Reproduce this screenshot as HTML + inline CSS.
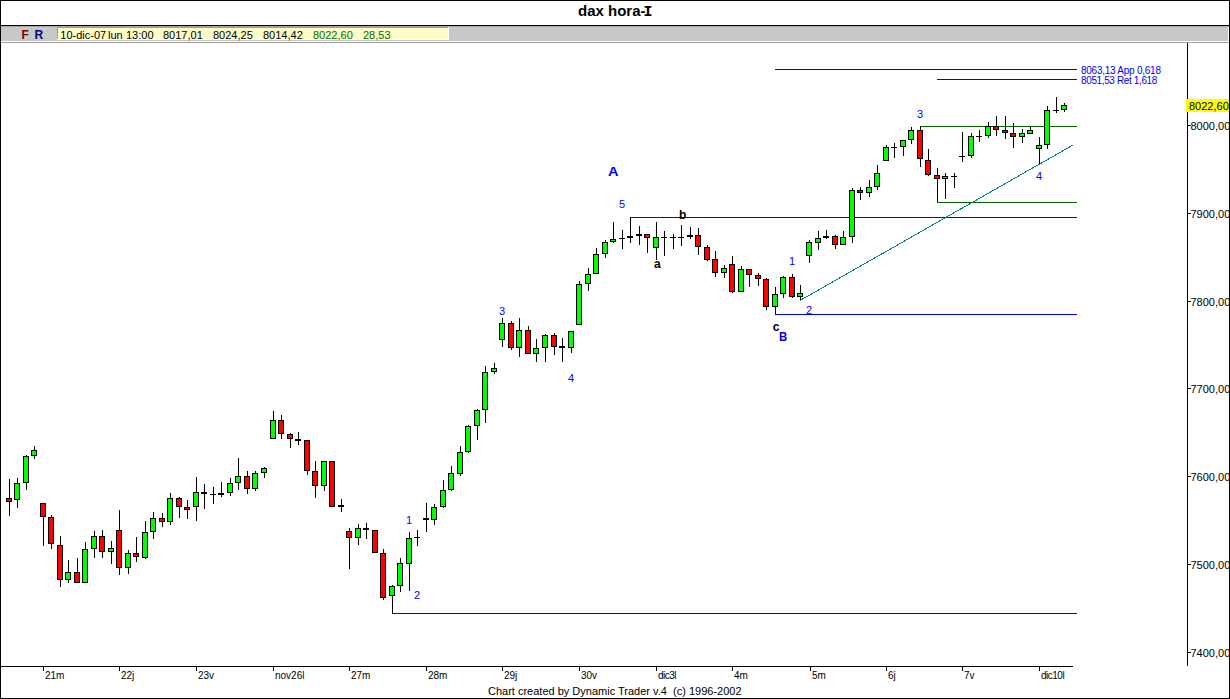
<!DOCTYPE html>
<html><head><meta charset="utf-8"><title>dax hora-I</title>
<style>
html,body{margin:0;padding:0;background:#fff;}
body{width:1230px;height:699px;position:relative;overflow:hidden;font-family:"Liberation Sans",sans-serif;font-size:11px;color:#000;}
.a{position:absolute;white-space:nowrap;line-height:1;}
svg{position:absolute;left:0;top:0;}
.b{font-weight:bold;}
.bl{color:#0000ff;}
</style></head><body>

<div class="a" style="left:0;top:0;width:1230px;height:1px;background:#000"></div>
<div class="a" style="left:0;top:0;width:1px;height:699px;background:#000"></div>
<div class="a" style="left:1229px;top:0;width:1px;height:699px;background:#000"></div>
<div class="a" style="left:0;top:698px;width:1230px;height:1px;background:#000"></div>
<div class="a" style="left:1px;top:25px;width:1228px;height:1px;background:#000"></div>
<div class="a" style="left:1px;top:26px;width:1227px;height:15px;background:#c8c8c8"></div>
<div class="a" style="left:1px;top:42px;width:1228px;height:1px;background:#a0a0a0"></div>
<div class="a" style="left:1px;top:26px;width:1228px;height:1px;background:#a6a6a6"></div>
<div class="a" style="left:57px;top:27px;width:392px;height:13px;background:#fff"></div>
<div class="a" style="left:57px;top:27px;width:391px;height:12px;background:#9c9c9c"></div>
<div class="a" style="left:58px;top:28px;width:390px;height:11px;background:#fefcc9"></div>
<svg width="1230" height="699" viewBox="0 0 1230 699" shape-rendering="crispEdges"><rect x="775" y="69" width="302" height="1" fill="#0000ff"/>
<rect x="937" y="79" width="140" height="1" fill="#0000ff"/>
<rect x="630" y="217" width="447" height="1" fill="#0000ff"/>
<rect x="775" y="314" width="302" height="1" fill="#0000ff"/>
<rect x="392" y="613" width="685" height="1" fill="#0000ff"/>
<rect x="920" y="126" width="157" height="1" fill="#006400"/>
<rect x="937" y="202" width="140" height="1" fill="#006400"/>
<line x1="800" y1="300.5" x2="1073" y2="145" stroke="#008080" stroke-width="1" shape-rendering="crispEdges"/>
<rect x="9" y="479" width="1" height="37" fill="#000"/>
<rect x="6" y="498" width="6" height="4" fill="#000"/>
<rect x="7" y="499" width="4" height="2" fill="#ff0000"/>
<rect x="17" y="478" width="1" height="30" fill="#000"/>
<rect x="14" y="483" width="6" height="17" fill="#000"/>
<rect x="15" y="484" width="4" height="15" fill="#00ff00"/>
<rect x="26" y="455" width="1" height="35" fill="#000"/>
<rect x="23" y="456" width="6" height="27" fill="#000"/>
<rect x="24" y="457" width="4" height="25" fill="#00ff00"/>
<rect x="34" y="446" width="1" height="13" fill="#000"/>
<rect x="31" y="450" width="6" height="6" fill="#000"/>
<rect x="32" y="451" width="4" height="4" fill="#00ff00"/>
<rect x="43" y="503" width="1" height="43" fill="#000"/>
<rect x="40" y="503" width="6" height="14" fill="#000"/>
<rect x="41" y="504" width="4" height="12" fill="#ff0000"/>
<rect x="51" y="515" width="1" height="34" fill="#000"/>
<rect x="48" y="517" width="6" height="27" fill="#000"/>
<rect x="49" y="518" width="4" height="25" fill="#ff0000"/>
<rect x="60" y="536" width="1" height="51" fill="#000"/>
<rect x="57" y="545" width="6" height="35" fill="#000"/>
<rect x="58" y="546" width="4" height="33" fill="#ff0000"/>
<rect x="68" y="560" width="1" height="23" fill="#000"/>
<rect x="65" y="572" width="6" height="8" fill="#000"/>
<rect x="66" y="573" width="4" height="6" fill="#00ff00"/>
<rect x="77" y="558" width="1" height="25" fill="#000"/>
<rect x="74" y="572" width="6" height="11" fill="#000"/>
<rect x="75" y="573" width="4" height="9" fill="#ff0000"/>
<rect x="85" y="542" width="1" height="41" fill="#000"/>
<rect x="82" y="549" width="6" height="34" fill="#000"/>
<rect x="83" y="550" width="4" height="32" fill="#00ff00"/>
<rect x="94" y="531" width="1" height="27" fill="#000"/>
<rect x="91" y="536" width="6" height="13" fill="#000"/>
<rect x="92" y="537" width="4" height="11" fill="#00ff00"/>
<rect x="102" y="530" width="1" height="28" fill="#000"/>
<rect x="99" y="536" width="6" height="16" fill="#000"/>
<rect x="100" y="537" width="4" height="14" fill="#ff0000"/>
<rect x="111" y="541" width="1" height="23" fill="#000"/>
<rect x="108" y="548" width="6" height="4" fill="#000"/>
<rect x="109" y="549" width="4" height="2" fill="#00ff00"/>
<rect x="119" y="510" width="1" height="65" fill="#000"/>
<rect x="116" y="530" width="6" height="38" fill="#000"/>
<rect x="117" y="531" width="4" height="36" fill="#ff0000"/>
<rect x="128" y="550" width="1" height="24" fill="#000"/>
<rect x="125" y="553" width="6" height="15" fill="#000"/>
<rect x="126" y="554" width="4" height="13" fill="#00ff00"/>
<rect x="136" y="537" width="1" height="25" fill="#000"/>
<rect x="133" y="553" width="6" height="4" fill="#000"/>
<rect x="134" y="554" width="4" height="2" fill="#ff0000"/>
<rect x="145" y="521" width="1" height="38" fill="#000"/>
<rect x="142" y="532" width="6" height="26" fill="#000"/>
<rect x="143" y="533" width="4" height="24" fill="#00ff00"/>
<rect x="153" y="512" width="1" height="27" fill="#000"/>
<rect x="150" y="518" width="6" height="14" fill="#000"/>
<rect x="151" y="519" width="4" height="12" fill="#00ff00"/>
<rect x="162" y="513" width="1" height="14" fill="#000"/>
<rect x="159" y="518" width="6" height="4" fill="#000"/>
<rect x="160" y="519" width="4" height="2" fill="#ff0000"/>
<rect x="170" y="493" width="1" height="32" fill="#000"/>
<rect x="167" y="498" width="6" height="24" fill="#000"/>
<rect x="168" y="499" width="4" height="22" fill="#00ff00"/>
<rect x="179" y="497" width="1" height="21" fill="#000"/>
<rect x="176" y="498" width="6" height="9" fill="#000"/>
<rect x="177" y="499" width="4" height="7" fill="#ff0000"/>
<rect x="187" y="500" width="1" height="19" fill="#000"/>
<rect x="184" y="507" width="6" height="3" fill="#000"/>
<rect x="185" y="508" width="4" height="1" fill="#ff0000"/>
<rect x="196" y="477" width="1" height="44" fill="#000"/>
<rect x="193" y="492" width="6" height="15" fill="#000"/>
<rect x="194" y="493" width="4" height="13" fill="#00ff00"/>
<rect x="204" y="484" width="1" height="25" fill="#000"/>
<rect x="201" y="492" width="6" height="2" fill="#000"/>
<rect x="213" y="487" width="1" height="17" fill="#000"/>
<rect x="210" y="494" width="6" height="1" fill="#000"/>
<rect x="221" y="482" width="1" height="15" fill="#000"/>
<rect x="218" y="493" width="6" height="2" fill="#000"/>
<rect x="230" y="478" width="1" height="18" fill="#000"/>
<rect x="227" y="483" width="6" height="10" fill="#000"/>
<rect x="228" y="484" width="4" height="8" fill="#00ff00"/>
<rect x="238" y="458" width="1" height="32" fill="#000"/>
<rect x="235" y="476" width="6" height="7" fill="#000"/>
<rect x="236" y="477" width="4" height="5" fill="#00ff00"/>
<rect x="247" y="471" width="1" height="23" fill="#000"/>
<rect x="244" y="476" width="6" height="13" fill="#000"/>
<rect x="245" y="477" width="4" height="11" fill="#ff0000"/>
<rect x="255" y="471" width="1" height="20" fill="#000"/>
<rect x="252" y="473" width="6" height="16" fill="#000"/>
<rect x="253" y="474" width="4" height="14" fill="#00ff00"/>
<rect x="264" y="467" width="1" height="11" fill="#000"/>
<rect x="261" y="468" width="6" height="5" fill="#000"/>
<rect x="262" y="469" width="4" height="3" fill="#00ff00"/>
<rect x="273" y="411" width="1" height="28" fill="#000"/>
<rect x="270" y="420" width="6" height="19" fill="#000"/>
<rect x="271" y="421" width="4" height="17" fill="#00ff00"/>
<rect x="281" y="415" width="1" height="24" fill="#000"/>
<rect x="278" y="420" width="6" height="14" fill="#000"/>
<rect x="279" y="421" width="4" height="12" fill="#ff0000"/>
<rect x="290" y="433" width="1" height="15" fill="#000"/>
<rect x="287" y="434" width="6" height="5" fill="#000"/>
<rect x="288" y="435" width="4" height="3" fill="#ff0000"/>
<rect x="298" y="432" width="1" height="13" fill="#000"/>
<rect x="295" y="439" width="6" height="2" fill="#000"/>
<rect x="307" y="440" width="1" height="35" fill="#000"/>
<rect x="304" y="440" width="6" height="31" fill="#000"/>
<rect x="305" y="441" width="4" height="29" fill="#ff0000"/>
<rect x="315" y="461" width="1" height="37" fill="#000"/>
<rect x="312" y="471" width="6" height="15" fill="#000"/>
<rect x="313" y="472" width="4" height="13" fill="#ff0000"/>
<rect x="324" y="461" width="1" height="30" fill="#000"/>
<rect x="321" y="461" width="6" height="25" fill="#000"/>
<rect x="322" y="462" width="4" height="23" fill="#00ff00"/>
<rect x="332" y="461" width="1" height="46" fill="#000"/>
<rect x="329" y="461" width="6" height="46" fill="#000"/>
<rect x="330" y="462" width="4" height="44" fill="#ff0000"/>
<rect x="341" y="499" width="1" height="13" fill="#000"/>
<rect x="338" y="505" width="6" height="2" fill="#000"/>
<rect x="349" y="528" width="1" height="41" fill="#000"/>
<rect x="346" y="531" width="6" height="7" fill="#000"/>
<rect x="347" y="532" width="4" height="5" fill="#ff0000"/>
<rect x="358" y="524" width="1" height="21" fill="#000"/>
<rect x="355" y="528" width="6" height="10" fill="#000"/>
<rect x="356" y="529" width="4" height="8" fill="#00ff00"/>
<rect x="366" y="523" width="1" height="16" fill="#000"/>
<rect x="363" y="528" width="6" height="2" fill="#000"/>
<rect x="375" y="530" width="1" height="23" fill="#000"/>
<rect x="372" y="530" width="6" height="23" fill="#000"/>
<rect x="373" y="531" width="4" height="21" fill="#ff0000"/>
<rect x="383" y="549" width="1" height="51" fill="#000"/>
<rect x="380" y="553" width="6" height="45" fill="#000"/>
<rect x="381" y="554" width="4" height="43" fill="#ff0000"/>
<rect x="392" y="585" width="1" height="28" fill="#000"/>
<rect x="389" y="586" width="6" height="10" fill="#000"/>
<rect x="390" y="587" width="4" height="8" fill="#00ff00"/>
<rect x="400" y="558" width="1" height="34" fill="#000"/>
<rect x="397" y="563" width="6" height="23" fill="#000"/>
<rect x="398" y="564" width="4" height="21" fill="#00ff00"/>
<rect x="409" y="532" width="1" height="59" fill="#000"/>
<rect x="406" y="538" width="6" height="26" fill="#000"/>
<rect x="407" y="539" width="4" height="24" fill="#00ff00"/>
<rect x="417" y="530" width="1" height="16" fill="#000"/>
<rect x="414" y="537" width="6" height="1" fill="#000"/>
<rect x="426" y="503" width="1" height="29" fill="#000"/>
<rect x="423" y="518" width="6" height="2" fill="#000"/>
<rect x="434" y="504" width="1" height="21" fill="#000"/>
<rect x="431" y="507" width="6" height="13" fill="#000"/>
<rect x="432" y="508" width="4" height="11" fill="#00ff00"/>
<rect x="443" y="480" width="1" height="28" fill="#000"/>
<rect x="440" y="490" width="6" height="17" fill="#000"/>
<rect x="441" y="491" width="4" height="15" fill="#00ff00"/>
<rect x="451" y="466" width="1" height="25" fill="#000"/>
<rect x="448" y="473" width="6" height="17" fill="#000"/>
<rect x="449" y="474" width="4" height="15" fill="#00ff00"/>
<rect x="460" y="446" width="1" height="30" fill="#000"/>
<rect x="457" y="452" width="6" height="22" fill="#000"/>
<rect x="458" y="453" width="4" height="20" fill="#00ff00"/>
<rect x="468" y="425" width="1" height="28" fill="#000"/>
<rect x="465" y="426" width="6" height="26" fill="#000"/>
<rect x="466" y="427" width="4" height="24" fill="#00ff00"/>
<rect x="477" y="409" width="1" height="31" fill="#000"/>
<rect x="474" y="410" width="6" height="16" fill="#000"/>
<rect x="475" y="411" width="4" height="14" fill="#00ff00"/>
<rect x="485" y="366" width="1" height="57" fill="#000"/>
<rect x="482" y="372" width="6" height="38" fill="#000"/>
<rect x="483" y="373" width="4" height="36" fill="#00ff00"/>
<rect x="494" y="363" width="1" height="11" fill="#000"/>
<rect x="491" y="368" width="6" height="4" fill="#000"/>
<rect x="492" y="369" width="4" height="2" fill="#00ff00"/>
<rect x="502" y="318" width="1" height="29" fill="#000"/>
<rect x="499" y="323" width="6" height="17" fill="#000"/>
<rect x="500" y="324" width="4" height="15" fill="#00ff00"/>
<rect x="511" y="321" width="1" height="29" fill="#000"/>
<rect x="508" y="323" width="6" height="25" fill="#000"/>
<rect x="509" y="324" width="4" height="23" fill="#ff0000"/>
<rect x="519" y="318" width="1" height="39" fill="#000"/>
<rect x="516" y="330" width="6" height="18" fill="#000"/>
<rect x="517" y="331" width="4" height="16" fill="#00ff00"/>
<rect x="528" y="326" width="1" height="28" fill="#000"/>
<rect x="525" y="330" width="6" height="24" fill="#000"/>
<rect x="526" y="331" width="4" height="22" fill="#ff0000"/>
<rect x="536" y="339" width="1" height="23" fill="#000"/>
<rect x="533" y="348" width="6" height="6" fill="#000"/>
<rect x="534" y="349" width="4" height="4" fill="#00ff00"/>
<rect x="545" y="334" width="1" height="28" fill="#000"/>
<rect x="542" y="335" width="6" height="13" fill="#000"/>
<rect x="543" y="336" width="4" height="11" fill="#00ff00"/>
<rect x="554" y="333" width="1" height="22" fill="#000"/>
<rect x="551" y="335" width="6" height="12" fill="#000"/>
<rect x="552" y="336" width="4" height="10" fill="#ff0000"/>
<rect x="562" y="338" width="1" height="24" fill="#000"/>
<rect x="559" y="346" width="6" height="2" fill="#000"/>
<rect x="571" y="331" width="1" height="22" fill="#000"/>
<rect x="568" y="331" width="6" height="17" fill="#000"/>
<rect x="569" y="332" width="4" height="15" fill="#00ff00"/>
<rect x="579" y="281" width="1" height="44" fill="#000"/>
<rect x="576" y="284" width="6" height="41" fill="#000"/>
<rect x="577" y="285" width="4" height="39" fill="#00ff00"/>
<rect x="588" y="268" width="1" height="23" fill="#000"/>
<rect x="585" y="274" width="6" height="10" fill="#000"/>
<rect x="586" y="275" width="4" height="8" fill="#00ff00"/>
<rect x="596" y="248" width="1" height="26" fill="#000"/>
<rect x="593" y="254" width="6" height="20" fill="#000"/>
<rect x="594" y="255" width="4" height="18" fill="#00ff00"/>
<rect x="605" y="240" width="1" height="18" fill="#000"/>
<rect x="602" y="242" width="6" height="12" fill="#000"/>
<rect x="603" y="243" width="4" height="10" fill="#00ff00"/>
<rect x="613" y="222" width="1" height="21" fill="#000"/>
<rect x="610" y="239" width="6" height="3" fill="#000"/>
<rect x="611" y="240" width="4" height="1" fill="#00ff00"/>
<rect x="622" y="230" width="1" height="19" fill="#000"/>
<rect x="619" y="238" width="6" height="1" fill="#000"/>
<rect x="630" y="217" width="1" height="26" fill="#000"/>
<rect x="627" y="236" width="6" height="2" fill="#000"/>
<rect x="639" y="226" width="1" height="19" fill="#000"/>
<rect x="636" y="234" width="6" height="2" fill="#000"/>
<rect x="647" y="234" width="1" height="19" fill="#000"/>
<rect x="644" y="234" width="6" height="4" fill="#000"/>
<rect x="645" y="235" width="4" height="2" fill="#ff0000"/>
<rect x="656" y="222" width="1" height="38" fill="#000"/>
<rect x="653" y="237" width="6" height="11" fill="#000"/>
<rect x="654" y="238" width="4" height="9" fill="#00ff00"/>
<rect x="664" y="231" width="1" height="25" fill="#000"/>
<rect x="661" y="237" width="6" height="1" fill="#000"/>
<rect x="673" y="234" width="1" height="15" fill="#000"/>
<rect x="670" y="237" width="6" height="1" fill="#000"/>
<rect x="681" y="225" width="1" height="21" fill="#000"/>
<rect x="678" y="237" width="6" height="1" fill="#000"/>
<rect x="690" y="227" width="1" height="12" fill="#000"/>
<rect x="687" y="235" width="6" height="2" fill="#000"/>
<rect x="698" y="228" width="1" height="27" fill="#000"/>
<rect x="695" y="235" width="6" height="12" fill="#000"/>
<rect x="696" y="236" width="4" height="10" fill="#ff0000"/>
<rect x="707" y="245" width="1" height="16" fill="#000"/>
<rect x="704" y="247" width="6" height="13" fill="#000"/>
<rect x="705" y="248" width="4" height="11" fill="#ff0000"/>
<rect x="715" y="251" width="1" height="26" fill="#000"/>
<rect x="712" y="259" width="6" height="14" fill="#000"/>
<rect x="713" y="260" width="4" height="12" fill="#ff0000"/>
<rect x="724" y="265" width="1" height="13" fill="#000"/>
<rect x="721" y="268" width="6" height="5" fill="#000"/>
<rect x="722" y="269" width="4" height="3" fill="#00ff00"/>
<rect x="732" y="256" width="1" height="37" fill="#000"/>
<rect x="729" y="264" width="6" height="28" fill="#000"/>
<rect x="730" y="265" width="4" height="26" fill="#ff0000"/>
<rect x="741" y="266" width="1" height="26" fill="#000"/>
<rect x="738" y="269" width="6" height="23" fill="#000"/>
<rect x="739" y="270" width="4" height="21" fill="#00ff00"/>
<rect x="749" y="269" width="1" height="18" fill="#000"/>
<rect x="746" y="269" width="6" height="6" fill="#000"/>
<rect x="747" y="270" width="4" height="4" fill="#ff0000"/>
<rect x="758" y="273" width="1" height="13" fill="#000"/>
<rect x="755" y="275" width="6" height="4" fill="#000"/>
<rect x="756" y="276" width="4" height="2" fill="#ff0000"/>
<rect x="766" y="278" width="1" height="32" fill="#000"/>
<rect x="763" y="279" width="6" height="28" fill="#000"/>
<rect x="764" y="280" width="4" height="26" fill="#ff0000"/>
<rect x="775" y="287" width="1" height="27" fill="#000"/>
<rect x="772" y="294" width="6" height="13" fill="#000"/>
<rect x="773" y="295" width="4" height="11" fill="#00ff00"/>
<rect x="783" y="276" width="1" height="22" fill="#000"/>
<rect x="780" y="277" width="6" height="17" fill="#000"/>
<rect x="781" y="278" width="4" height="15" fill="#00ff00"/>
<rect x="792" y="274" width="1" height="24" fill="#000"/>
<rect x="789" y="277" width="6" height="20" fill="#000"/>
<rect x="790" y="278" width="4" height="18" fill="#ff0000"/>
<rect x="800" y="285" width="1" height="15" fill="#000"/>
<rect x="797" y="293" width="6" height="4" fill="#000"/>
<rect x="798" y="294" width="4" height="2" fill="#00ff00"/>
<rect x="809" y="240" width="1" height="23" fill="#000"/>
<rect x="806" y="242" width="6" height="14" fill="#000"/>
<rect x="807" y="243" width="4" height="12" fill="#00ff00"/>
<rect x="818" y="231" width="1" height="19" fill="#000"/>
<rect x="815" y="238" width="6" height="5" fill="#000"/>
<rect x="816" y="239" width="4" height="3" fill="#00ff00"/>
<rect x="826" y="230" width="1" height="9" fill="#000"/>
<rect x="823" y="236" width="6" height="2" fill="#000"/>
<rect x="835" y="235" width="1" height="14" fill="#000"/>
<rect x="832" y="236" width="6" height="9" fill="#000"/>
<rect x="833" y="237" width="4" height="7" fill="#ff0000"/>
<rect x="843" y="231" width="1" height="14" fill="#000"/>
<rect x="840" y="237" width="6" height="8" fill="#000"/>
<rect x="841" y="238" width="4" height="6" fill="#00ff00"/>
<rect x="852" y="188" width="1" height="55" fill="#000"/>
<rect x="849" y="190" width="6" height="47" fill="#000"/>
<rect x="850" y="191" width="4" height="45" fill="#00ff00"/>
<rect x="860" y="187" width="1" height="13" fill="#000"/>
<rect x="857" y="190" width="6" height="3" fill="#000"/>
<rect x="858" y="191" width="4" height="1" fill="#ff0000"/>
<rect x="869" y="180" width="1" height="17" fill="#000"/>
<rect x="866" y="187" width="6" height="6" fill="#000"/>
<rect x="867" y="188" width="4" height="4" fill="#00ff00"/>
<rect x="877" y="165" width="1" height="25" fill="#000"/>
<rect x="874" y="173" width="6" height="14" fill="#000"/>
<rect x="875" y="174" width="4" height="12" fill="#00ff00"/>
<rect x="886" y="145" width="1" height="16" fill="#000"/>
<rect x="883" y="147" width="6" height="14" fill="#000"/>
<rect x="884" y="148" width="4" height="12" fill="#00ff00"/>
<rect x="894" y="143" width="1" height="15" fill="#000"/>
<rect x="891" y="147" width="6" height="1" fill="#000"/>
<rect x="903" y="140" width="1" height="16" fill="#000"/>
<rect x="900" y="140" width="6" height="7" fill="#000"/>
<rect x="901" y="141" width="4" height="5" fill="#00ff00"/>
<rect x="911" y="127" width="1" height="17" fill="#000"/>
<rect x="908" y="130" width="6" height="10" fill="#000"/>
<rect x="909" y="131" width="4" height="8" fill="#00ff00"/>
<rect x="920" y="126" width="1" height="41" fill="#000"/>
<rect x="917" y="130" width="6" height="29" fill="#000"/>
<rect x="918" y="131" width="4" height="27" fill="#ff0000"/>
<rect x="928" y="149" width="1" height="27" fill="#000"/>
<rect x="925" y="160" width="6" height="15" fill="#000"/>
<rect x="926" y="161" width="4" height="13" fill="#ff0000"/>
<rect x="937" y="168" width="1" height="34" fill="#000"/>
<rect x="934" y="175" width="6" height="4" fill="#000"/>
<rect x="935" y="176" width="4" height="2" fill="#ff0000"/>
<rect x="945" y="173" width="1" height="26" fill="#000"/>
<rect x="942" y="176" width="6" height="3" fill="#000"/>
<rect x="943" y="177" width="4" height="1" fill="#00ff00"/>
<rect x="954" y="173" width="1" height="15" fill="#000"/>
<rect x="951" y="176" width="6" height="1" fill="#000"/>
<rect x="962" y="132" width="1" height="30" fill="#000"/>
<rect x="959" y="156" width="6" height="1" fill="#000"/>
<rect x="971" y="133" width="1" height="25" fill="#000"/>
<rect x="968" y="136" width="6" height="20" fill="#000"/>
<rect x="969" y="137" width="4" height="18" fill="#00ff00"/>
<rect x="979" y="130" width="1" height="12" fill="#000"/>
<rect x="976" y="136" width="6" height="1" fill="#000"/>
<rect x="988" y="122" width="1" height="16" fill="#000"/>
<rect x="985" y="126" width="6" height="10" fill="#000"/>
<rect x="986" y="127" width="4" height="8" fill="#00ff00"/>
<rect x="996" y="116" width="1" height="20" fill="#000"/>
<rect x="993" y="126" width="6" height="4" fill="#000"/>
<rect x="994" y="127" width="4" height="2" fill="#ff0000"/>
<rect x="1005" y="116" width="1" height="23" fill="#000"/>
<rect x="1002" y="130" width="6" height="3" fill="#000"/>
<rect x="1003" y="131" width="4" height="1" fill="#ff0000"/>
<rect x="1013" y="123" width="1" height="25" fill="#000"/>
<rect x="1010" y="133" width="6" height="4" fill="#000"/>
<rect x="1011" y="134" width="4" height="2" fill="#ff0000"/>
<rect x="1022" y="129" width="1" height="14" fill="#000"/>
<rect x="1019" y="133" width="6" height="4" fill="#000"/>
<rect x="1020" y="134" width="4" height="2" fill="#00ff00"/>
<rect x="1030" y="126" width="1" height="8" fill="#000"/>
<rect x="1027" y="130" width="6" height="4" fill="#000"/>
<rect x="1028" y="131" width="4" height="2" fill="#00ff00"/>
<rect x="1039" y="137" width="1" height="27" fill="#000"/>
<rect x="1036" y="145" width="6" height="4" fill="#000"/>
<rect x="1037" y="146" width="4" height="2" fill="#00ff00"/>
<rect x="1047" y="106" width="1" height="43" fill="#000"/>
<rect x="1044" y="110" width="6" height="35" fill="#000"/>
<rect x="1045" y="111" width="4" height="33" fill="#00ff00"/>
<rect x="1056" y="97" width="1" height="16" fill="#000"/>
<rect x="1053" y="110" width="6" height="1" fill="#000"/>
<rect x="1064" y="103" width="1" height="9" fill="#000"/>
<rect x="1061" y="105" width="6" height="5" fill="#000"/>
<rect x="1062" y="106" width="4" height="3" fill="#00ff00"/>
<rect x="1187" y="43" width="1" height="623" fill="#000"/>
<rect x="1" y="666" width="1072" height="1" fill="#000"/>
<rect x="1188" y="125" width="3" height="1" fill="#000"/>
<rect x="1188" y="213" width="3" height="1" fill="#000"/>
<rect x="1188" y="301" width="3" height="1" fill="#000"/>
<rect x="1188" y="388" width="3" height="1" fill="#000"/>
<rect x="1188" y="476" width="3" height="1" fill="#000"/>
<rect x="1188" y="564" width="3" height="1" fill="#000"/>
<rect x="1188" y="652" width="3" height="1" fill="#000"/>
<rect x="43" y="667" width="1" height="4" fill="#000"/>
<rect x="119" y="667" width="1" height="4" fill="#000"/>
<rect x="196" y="667" width="1" height="4" fill="#000"/>
<rect x="273" y="667" width="1" height="4" fill="#000"/>
<rect x="349" y="667" width="1" height="4" fill="#000"/>
<rect x="426" y="667" width="1" height="4" fill="#000"/>
<rect x="502" y="667" width="1" height="4" fill="#000"/>
<rect x="579" y="667" width="1" height="4" fill="#000"/>
<rect x="656" y="667" width="1" height="4" fill="#000"/>
<rect x="732" y="667" width="1" height="4" fill="#000"/>
<rect x="810" y="667" width="1" height="4" fill="#000"/>
<rect x="886" y="667" width="1" height="4" fill="#000"/>
<rect x="962" y="667" width="1" height="4" fill="#000"/>
<rect x="1039" y="667" width="1" height="4" fill="#000"/></svg>
<div class="a b" id="title" style="left:578px;top:3px;font-size:15px;">dax hora-</div>
<div class="a b" id="titleI" style="left:643.6px;top:5px;font-size:15px;font-family:'Liberation Mono',monospace;">I</div>
<div class="a b" id="tF" style="left:21.4px;top:29px;font-size:12px;color:#800000">F</div>
<div class="a b" id="tR" style="left:34.4px;top:29px;font-size:12px;color:#000080">R</div>
<div class="a" id="i1" style="left:60.3px;top:30px;color:#000">10-dic-07</div>
<div class="a" id="i2" style="left:108px;top:30px;color:#000">lun</div>
<div class="a" id="i3" style="left:126px;top:30px;color:#000">13:00</div>
<div class="a" id="i4" style="left:163px;top:30px;color:#000">8017,01</div>
<div class="a" id="i5" style="left:213px;top:30px;color:#000">8024,25</div>
<div class="a" id="i6" style="left:263px;top:30px;color:#000">8014,42</div>
<div class="a" id="i7" style="left:313px;top:30px;color:#007000">8022,60</div>
<div class="a" id="i8" style="left:363px;top:30px;color:#007000">28,53</div>
<div class="a yl" style="left:1190.5px;top:121px;">8000,00</div>
<div class="a yl" style="left:1190.5px;top:209px;">7900,00</div>
<div class="a yl" style="left:1190.5px;top:297px;">7800,00</div>
<div class="a yl" style="left:1190.5px;top:384px;">7700,00</div>
<div class="a yl" style="left:1190.5px;top:472px;">7600,00</div>
<div class="a yl" style="left:1190.5px;top:560px;">7500,00</div>
<div class="a yl" style="left:1190.5px;top:648px;">7400,00</div>
<div class="a" style="left:1186px;top:99px;width:43px;height:13px;background:#ffff00"></div>
<div class="a" id="cur" style="left:1189px;top:101px;">8022,60</div>
<div class="a xl" style="left:45px;top:671px;font-size:10px;">21m</div>
<div class="a xl" style="left:121px;top:671px;font-size:10px;">22j</div>
<div class="a xl" style="left:198px;top:671px;font-size:10px;">23v</div>
<div class="a xl" style="left:275px;top:671px;font-size:10px;">nov26l</div>
<div class="a xl" style="left:351px;top:671px;font-size:10px;">27m</div>
<div class="a xl" style="left:428px;top:671px;font-size:10px;">28m</div>
<div class="a xl" style="left:504px;top:671px;font-size:10px;">29j</div>
<div class="a xl" style="left:581px;top:671px;font-size:10px;">30v</div>
<div class="a xl" style="left:658px;top:671px;font-size:10px;letter-spacing:-0.5px;">dic3l</div>
<div class="a xl" style="left:734px;top:671px;font-size:10px;">4m</div>
<div class="a xl" style="left:812px;top:671px;font-size:10px;">5m</div>
<div class="a xl" style="left:888px;top:671px;font-size:10px;">6j</div>
<div class="a xl" style="left:964px;top:671px;font-size:10px;">7v</div>
<div class="a xl" style="left:1041px;top:671px;font-size:10px;letter-spacing:-0.5px;">dic10l</div>
<div class="a" id="foot" style="left:488px;top:686px;">Chart created by Dynamic Trader v.4&nbsp; (c) 1996-2002</div>
<div class="a bl" id="f1" style="left:1081px;top:66px;font-size:10px;letter-spacing:-0.25px;">8063,13 App 0,618</div>
<div class="a bl" id="f2" style="left:1081px;top:76px;font-size:10px;letter-spacing:-0.37px;">8051,53 Ret 1,618</div>
<div class="a bl" style="left:406px;top:515px;">1</div>
<div class="a bl" style="left:414px;top:590px;">2</div>
<div class="a bl" style="left:499px;top:306px;">3</div>
<div class="a bl" style="left:568px;top:373px;">4</div>
<div class="a bl" style="left:619px;top:199px;">5</div>
<div class="a bl" style="left:789px;top:256px;">1</div>
<div class="a bl" style="left:806px;top:305px;">2</div>
<div class="a bl" style="left:917px;top:109px;">3</div>
<div class="a bl" style="left:1036px;top:171px;">4</div>
<div class="a b" style="left:654px;top:258px;font-size:12px;">a</div>
<div class="a b" style="left:679px;top:209px;font-size:12px;">b</div>
<div class="a b" style="left:772.8px;top:321px;font-size:12px;">c</div>
<div class="a b bl" id="bigA" style="left:608px;top:165px;font-size:13px;transform:scaleX(1.12);transform-origin:0 0;">A</div>
<div class="a b bl" id="bigB" style="left:779px;top:330px;font-size:13px;transform:scaleX(0.88);transform-origin:0 0;">B</div>
</body></html>
